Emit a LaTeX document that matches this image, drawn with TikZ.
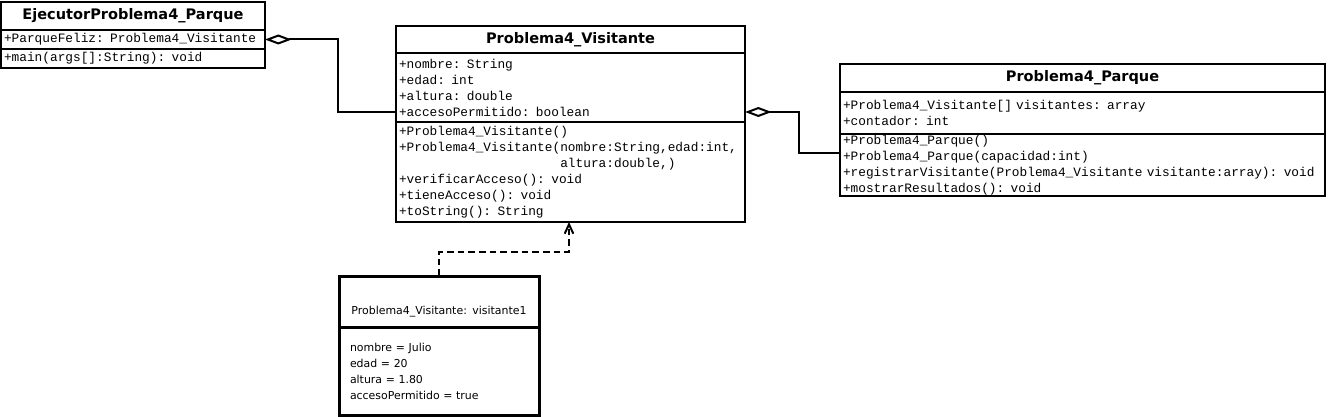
\documentclass[tikz,border=0pt]{standalone}
\usepackage{fontspec}
\usetikzlibrary{positioning,arrows.meta,calc}

\newfontfamily\umlsans{DejaVu Sans}
\newfontfamily\umlmono{Liberation Mono}
\newcommand{\umlpx}{0.75pt}

\tikzstyle{cltitle}=[draw,line width=1.5pt,outer sep=0pt,anchor=north west,inner sep=0pt,font=\umlsans\bfseries\fontsize{10.9}{12}\selectfont]
\tikzstyle{objbox}=[draw,line width=2.25pt,outer sep=0pt,anchor=north west,inner xsep=11*\umlpx,inner ysep=0pt,align=left,font=\umlsans\fontsize{8.2}{12}\selectfont]
\tikzstyle{aggr}=[draw,line width=1.5pt,{Diamond[open,length=20pt,width=7.5pt]}-]
\tikzstyle{dep}=[draw,line width=1.5pt,dash pattern=on 5pt off 3pt,-{Straight Barb[length=7pt,width=6.5pt]}]
\tikzset{clpart/.style 2 args={draw,line width=1.5pt,outer sep=0pt,anchor=north west,inner xsep=3*\umlpx,inner ysep=0pt,
    align=left,text width=(#1-6)*\umlpx,minimum height=#2*\umlpx,font=\umlmono\fontsize{9.6}{12}\selectfont}}

\begin{document}
\begin{tikzpicture}[x=\umlpx,y=-\umlpx]
    \useasboundingbox (0,0) rectangle (1330,417);
    % First we draw the classes
    \node[cltitle,minimum width=264*\umlpx,minimum height=28*\umlpx] (ejtitle) at (1,2) {EjecutorProblema4\_Parque};
    \node[clpart={264}{19}] (ejattr) at (ejtitle.south west) {+ParqueFeliz: Problema4\_Visitante};
    \node[clpart={264}{19}] (ejmeth) at (ejattr.south west) {+main(args[]:String): void};

    \node[cltitle,minimum width=349*\umlpx,minimum height=27*\umlpx] (vistitle) at (396,26) {Problema4\_Visitante};
    \node[clpart={349}{69}] (visattr) at (vistitle.south west) {+nombre: String\\+edad: int\\+altura: double\\+accesoPermitido: boolean};
    \node[clpart={349}{100}] (vismeth) at (visattr.south west) {+Problema4\_Visitante()\\
        +Problema4\_Visitante(nombre:String,edad:int,\\
        \phantom{+Problema4\_Visitante(}altura:double,)\\
        +verificarAcceso(): void\\+tieneAcceso(): void\\+toString(): String};

    \node[cltitle,minimum width=485*\umlpx,minimum height=28*\umlpx] (partitle) at (840,64) {Problema4\_Parque};
    \node[clpart={485}{42}] (parattr) at (partitle.south west) {+Problema4\_Visitante[] visitantes: array\\+contador: int};
    \node[clpart={485}{62}] (parmeth) at (parattr.south west) {+Problema4\_Parque()\\+Problema4\_Parque(capacidad:int)\\
        +registrarVisitante(Problema4\_Visitante visitante:array): void\\+mostrarResultados(): void};

    % Then the object
    \node[objbox,align=center,text width=178*\umlpx,minimum height=51*\umlpx] (objtitle) at (339,276) {\strut\\[1pt]Problema4\_Visitante: visitante1};
    \node[objbox,text width=178*\umlpx,minimum height=88*\umlpx] (objattr) at (objtitle.south west) {nombre = Julio\\edad = 20\\altura = 1.80\\accesoPermitido = true};

    % Connect them
    \path[aggr] (ejattr.east) -- ++(73,0) |- ($(visattr.south west)+(0,-10)$);
    \path[aggr] ($(visattr.south east)+(0,-10)$) -- ++(54,0) |- ($(parmeth.west)+(0,-12)$);
    \path[dep] (objtitle.north) -- ++(0,-24) -| ($(vismeth.south west)+(173,0)$);
\end{tikzpicture}
\end{document}
